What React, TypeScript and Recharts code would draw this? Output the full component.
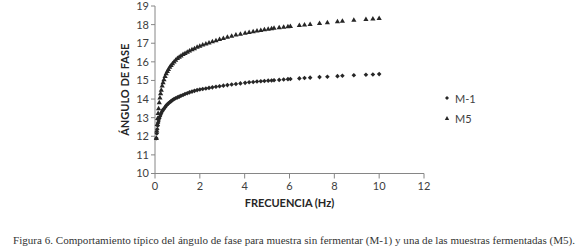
import { ScatterChart, Scatter, XAxis, YAxis, Label, Legend } from "recharts"

const frequency = [
  0.06, 0.08, 0.1, 0.12, 0.14, 0.16, 0.19, 0.22, 0.25, 0.28,
  0.32, 0.36, 0.4, 0.45, 0.5, 0.55, 0.6, 0.66, 0.72, 0.78,
  0.85, 0.92, 1.0, 1.08, 1.16, 1.25, 1.34, 1.44, 1.54, 1.65,
  1.76, 1.88, 2.0, 2.13, 2.27, 2.41, 2.56, 2.72, 2.88, 3.05,
  3.23, 3.42, 3.61, 3.81, 4.02, 4.2, 4.38, 4.55, 4.72, 4.88,
  5.05, 5.2, 5.31, 5.54, 5.74, 5.93, 6.04, 6.44, 6.67, 6.92,
  7.34, 7.69, 8.14, 8.36, 8.87, 9.41, 9.72, 10.0,
]

const m1 = [
  11.9, 12.15, 12.38, 12.57, 12.72, 12.82, 12.95, 13.06, 13.16, 13.25,
  13.34, 13.42, 13.48, 13.56, 13.65, 13.71, 13.77, 13.83, 13.89, 13.94,
  14.0, 14.04, 14.09, 14.13, 14.18, 14.22, 14.27, 14.31, 14.36, 14.4,
  14.44, 14.48, 14.51, 14.54, 14.57, 14.6, 14.63, 14.66, 14.69, 14.72,
  14.75, 14.78, 14.81, 14.84, 14.87, 14.9, 14.92, 14.94, 14.96, 14.97,
  14.99, 15.0, 15.01, 15.03, 15.05, 15.07, 15.08, 15.11, 15.13, 15.15,
  15.18, 15.2, 15.23, 15.25, 15.28, 15.31, 15.32, 15.34,
]

const m5 = [
  11.9, 12.3, 12.65, 12.98, 13.25, 13.5, 13.82, 14.08, 14.3, 14.5,
  14.72, 14.9, 15.06, 15.23, 15.38, 15.5, 15.61, 15.73, 15.83, 15.92,
  16.01, 16.1, 16.2, 16.27, 16.34, 16.41, 16.47, 16.54, 16.6, 16.67,
  16.73, 16.8, 16.86, 16.92, 16.98, 17.04, 17.1, 17.16, 17.22, 17.28,
  17.34, 17.4, 17.46, 17.51, 17.56, 17.6, 17.64, 17.68, 17.71, 17.74,
  17.77, 17.8, 17.82, 17.85, 17.88, 17.91, 17.92, 17.97, 18.0, 18.03,
  18.08, 18.12, 18.17, 18.2, 18.25, 18.3, 18.32, 18.35,
]

const xTicks = [0, 2, 4, 6, 8, 10, 12]
const yTicks = [10, 11, 12, 13, 14, 15, 16, 17, 18, 19]

const m1Data = frequency.map((f, i) => ({ x: f, y: m1[i] }))
const m5Data = frequency.map((f, i) => ({ x: f, y: m5[i] }))

const axisColor = "#868686"
const textColor = "#404040"
const markerColor = "#262626"
const font = "Lato, 'Open Sans', sans-serif"

// small excel-like markers
const Diamond = (props: any) => {
  const { cx, cy } = props
  const r = 2.3
  return <polygon points={`${cx},${cy - r} ${cx + r},${cy} ${cx},${cy + r} ${cx - r},${cy}`} fill={markerColor} />
}

const Triangle = (props: any) => {
  const { cx, cy } = props
  return <polygon points={`${cx},${cy - 2.6} ${cx + 2.6},${cy + 1.9} ${cx - 2.6},${cy + 1.9}`} fill={markerColor} />
}

function LegendBox({ payload }: any) {
  return (
    <div style={{ fontFamily: font, fontSize: 11, color: textColor }}>
      {(payload || []).map((entry: any, i: number) => (
        <div key={entry.value} style={{ display: "flex", alignItems: "center", height: 20 }}>
          <svg width={8} height={8} style={{ marginRight: 4 }}>
            {i === 0 ? (
              <polygon points="4,2 6,4 4,6 2,4" fill={markerColor} />
            ) : (
              <polygon points="4,2 6.2,6 1.8,6" fill={markerColor} />
            )}
          </svg>
          <span>{entry.value}</span>
        </div>
      ))}
    </div>
  )
}

export default function App() {
  return (
    <div style={{ position: "absolute", left: 0, top: 0, width: 580, height: 248, background: "#fff" }}>
      <ScatterChart
        width={580}
        height={248}
        margin={{ top: 6, right: 156, bottom: 15.5, left: 95 }}
        style={{ fontFamily: font }}
      >
        <XAxis
          type="number"
          dataKey="x"
          domain={[0, 12]}
          ticks={xTicks}
          height={59}
          stroke={axisColor}
          tickSize={5}
          tickMargin={4}
          tick={{ fontSize: 11, fill: textColor, fontFamily: font }}
        >
          <Label
            value="FRECUENCIA (Hz)"
            position="center"
            style={{ fontSize: 11, fontWeight: 700, fill: "#262626", fontFamily: font }}
          />
        </XAxis>
        <YAxis
          type="number"
          dataKey="y"
          domain={[10, 19]}
          ticks={yTicks}
          width={60}
          stroke={axisColor}
          tickSize={4}
          tickMargin={2}
          tick={{ fontSize: 11, fill: textColor, fontFamily: font }}
        >
          <Label
            value="ÁNGULO DE FASE"
            position="center"
            angle={-90}
            style={{ fontSize: 11, fontWeight: 700, fill: "#262626", fontFamily: font }}
          />
        </YAxis>
        <Legend
          layout="horizontal"
          verticalAlign="middle"
          content={LegendBox}
          wrapperStyle={{ left: 443, top: 88, width: 60 }}
        />
        <Scatter name="M-1" data={m1Data} fill={markerColor} shape={Diamond} isAnimationActive={false} />
        <Scatter name="M5" data={m5Data} fill={markerColor} shape={Triangle} isAnimationActive={false} />
      </ScatterChart>
      <svg width={580} height={20} style={{ position: "absolute", left: 0, top: 230 }}>
        <text
          x={13}
          y={13.5}
          textLength={562}
          lengthAdjust="spacingAndGlyphs"
          style={{ fontFamily: "'Liberation Serif', serif", fontSize: 10.5, fill: "#333" }}
        >
          Figura 6. Comportamiento típico del ángulo de fase para muestra sin fermentar (M-1) y una de las muestras fermentadas (M5).
        </text>
      </svg>
    </div>
  )
}
